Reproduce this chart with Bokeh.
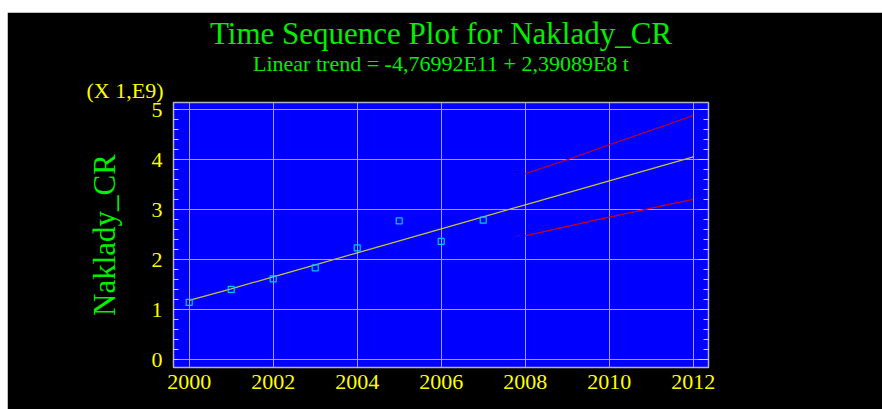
from bokeh.plotting import figure
from bokeh.models import (Range1d, LinearAxis, SingleIntervalTicker, Title, Legend,
                          LegendItem, Spacer)
from bokeh.layouts import column, row
from bokeh.embed import file_html
from bokeh.resources import INLINE

# ---- data (values in units of 1E9) ----
years_actual = [2000, 2001, 2002, 2003, 2004, 2005, 2006, 2007]
actual = [1.147, 1.407, 1.62, 1.84, 2.24, 2.78, 2.367, 2.793]

years_forecast = [2000, 2001, 2002, 2003, 2004, 2005, 2006, 2007, 2008, 2009, 2010, 2011, 2012]
forecast = [1.19, 1.42, 1.66, 1.90, 2.14, 2.38, 2.62, 2.86, 3.10, 3.34, 3.58, 3.82, 4.06]

years_limits = [2008, 2009, 2010, 2011, 2012]
upper_limit = [3.72, 4.00, 4.30, 4.59, 4.885]
lower_limit = [2.48, 2.67, 2.855, 3.035, 3.21]

title_text = "Time Sequence Plot for Naklady_CR"
subtitle_text = "Linear trend = -4,76992E11 + 2,39089E8 t"
y_label_text = "Naklady_CR"
scale_text = "(X 1,E9)"
legend_labels = ["actual", "forecast", "95,0% limits"]

FONT = "Liberation Serif"
GREEN = "#00f000"
YELLOW = "#ffff00"
TICK = "#d0d0f0"

p = figure(frame_width=535, frame_height=265, output_backend="svg",
           toolbar_location=None, title=None,
           x_range=Range1d(1999.626, 2012.364), y_range=Range1d(-0.154, 5.146),
           min_border_left=166, min_border_right=0, min_border_top=90,
           min_border_bottom=42,
           background_fill_color="#0000ff", border_fill_color="#000000",
           outline_line_color="#b4b4c8", outline_line_width=1.5)

xa = p.xaxis[0]
ya = p.yaxis[0]
xa.ticker = SingleIntervalTicker(interval=2, num_minor_ticks=0)
ya.ticker = SingleIntervalTicker(interval=1, num_minor_ticks=5)
for ax in (xa, ya):
    ax.axis_line_color = None
    ax.major_label_text_font = FONT
    ax.major_label_text_font_size = "22px"
    ax.major_label_text_color = YELLOW
    ax.major_tick_out = 0
    ax.minor_tick_out = 0
    ax.major_tick_line_color = TICK
    ax.minor_tick_line_color = TICK
xa.major_tick_in = 0
xa.minor_tick_in = 0
xa.major_label_standoff = 7
ya.major_tick_in = 0
ya.minor_tick_in = 5
ya.major_label_standoff = 11
ya.axis_label = y_label_text
ya.axis_label_text_font = FONT
ya.axis_label_text_font_size = "31px"
ya.axis_label_text_font_style = "normal"
ya.axis_label_text_color = GREEN
ya.axis_label_standoff = 27

right_ax = LinearAxis(ticker=SingleIntervalTicker(interval=1, num_minor_ticks=5),
                      axis_line_color=None, major_label_text_color=None,
                      major_label_text_font_size="0px",
                      major_tick_in=10, major_tick_out=0, minor_tick_in=5, minor_tick_out=0,
                      major_label_standoff=0,
                      major_tick_line_color=TICK, minor_tick_line_color=TICK)
p.add_layout(right_ax, "right")

p.xgrid.grid_line_color = "#a0a0dc"
p.ygrid.grid_line_color = "#a0a0dc"

# header texts (first added sits nearest the frame)
p.add_layout(Title(text=scale_text, align="left", offset=-87, standoff=0,
                   text_font=FONT, text_font_size="22px", text_font_style="normal",
                   text_color=YELLOW), "above")
p.add_layout(Title(text=subtitle_text, align="center", standoff=0,
                   text_font=FONT, text_font_size="22px", text_font_style="normal",
                   text_color=GREEN), "above")
p.add_layout(Title(text=title_text, align="center", standoff=-4,
                   text_font=FONT, text_font_size="31px", text_font_style="normal",
                   text_color=GREEN), "above")

r_fc = p.line(years_forecast, forecast, line_color="#c4c43a", line_width=1.2)
r_up = p.line(years_limits, upper_limit, line_color="#cc0010", line_width=1.2)
r_lo = p.line(years_limits, lower_limit, line_color="#cc0010", line_width=1.2)
r_act = p.scatter(years_actual, actual, marker="square", size=6, fill_color=None,
                  line_color="#00c8ff", line_width=1.2)

legend = Legend(items=[LegendItem(label=legend_labels[0], renderers=[r_act]),
                       LegendItem(label=legend_labels[1], renderers=[r_fc]),
                       LegendItem(label=legend_labels[2], renderers=[r_up])],
                location="top_left", margin=20, padding=0, spacing=0,
                glyph_width=30, glyph_height=25, label_height=25, label_standoff=11,
                label_text_font=FONT, label_text_font_size="22px", label_text_color=GREEN,
                background_fill_alpha=0, border_line_color=None)
p.add_layout(legend, "right")

layout = row(Spacer(width=7, height=397),
             column(Spacer(width=875, height=12), p, spacing=0), spacing=0)

open("out.html", "w").write(file_html(layout, INLINE))
